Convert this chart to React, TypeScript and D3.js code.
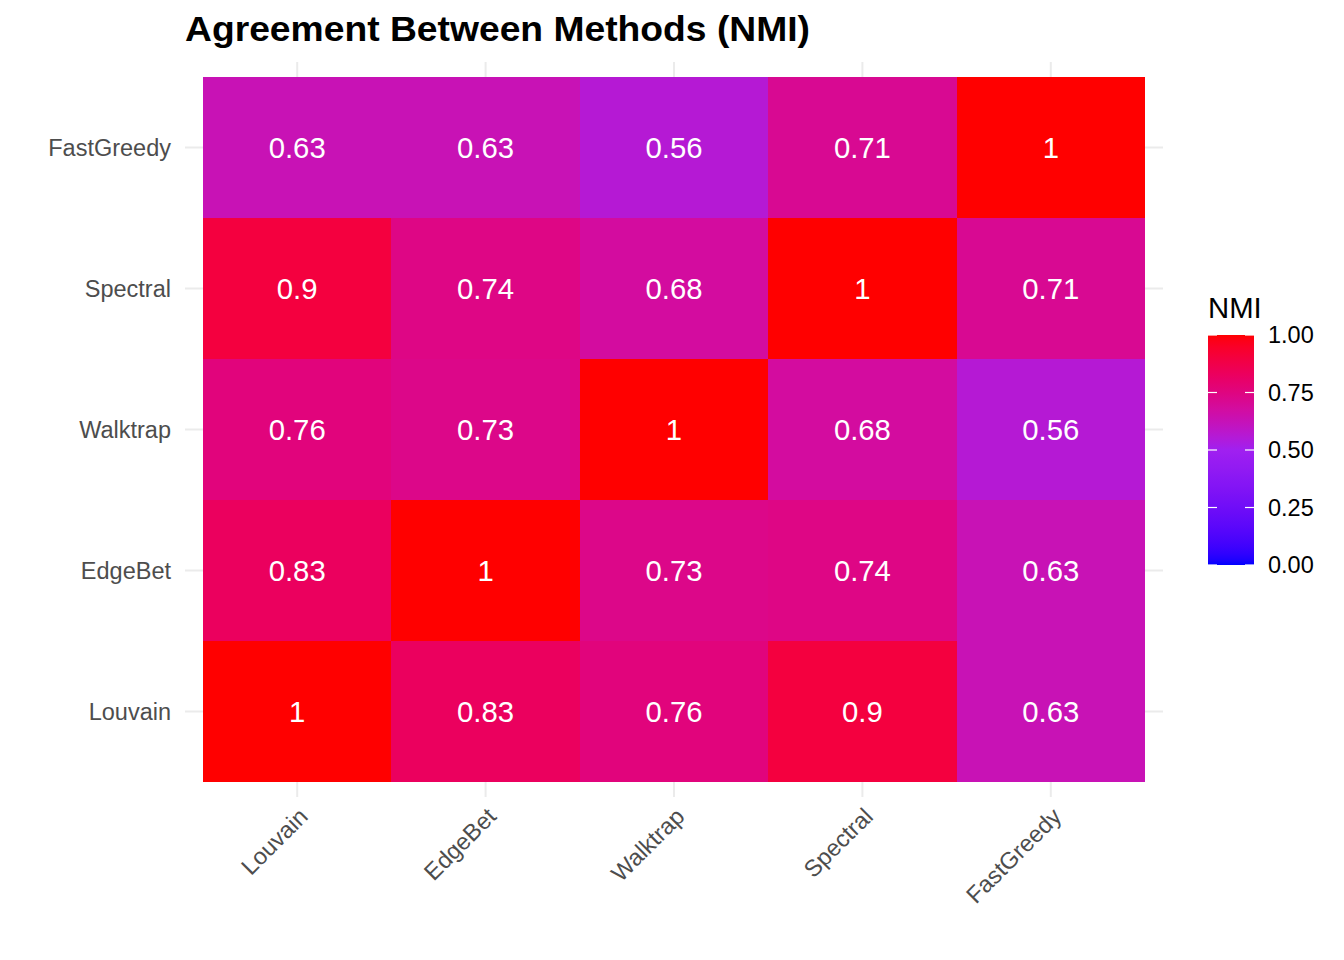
import React from "react";
import * as d3 from "d3";

const methods = ["Louvain", "EdgeBet", "Walktrap", "Spectral", "FastGreedy"];
const louvainRow = [1, 0.83, 0.76, 0.9, 0.63];
const edgeBetRow = [0.83, 1, 0.73, 0.74, 0.63];
const walktrapRow = [0.76, 0.73, 1, 0.68, 0.56];
const spectralRow = [0.9, 0.74, 0.68, 1, 0.71];
const fastGreedyRow = [0.63, 0.63, 0.56, 0.71, 1];
const legendTicks = [0, 0.25, 0.5, 0.75, 1];

const rows = [louvainRow, edgeBetRow, walktrapRow, spectralRow, fastGreedyRow];

const W = 1344;
const H = 960;
const panel = { left: 203, right: 1145, top: 77, bottom: 782 };
const FONT = "'Liberation Sans', Arial, sans-serif";

export default function App() {
  const x = d3.scaleBand<string>().domain(methods).range([panel.left, panel.right]).padding(0);
  const y = d3.scaleBand<string>().domain(methods).range([panel.bottom, panel.top]).padding(0);
  const color = d3
    .scaleLinear<string>()
    .domain([0, 0.5, 1])
    .range(["blue", "#A020F0", "red"])
    .interpolate(d3.interpolateLab);

  const cells: { xi: string; yi: string; v: number }[] = [];
  rows.forEach((row, r) => {
    row.forEach((v, c) => {
      cells.push({ xi: methods[c], yi: methods[r], v });
    });
  });

  const bw = x.bandwidth();
  const bh = y.bandwidth();

  // legend
  const lg = { x: 1208, w: 46, top: 335, bottom: 565 };
  const ly = d3.scaleLinear().domain([0, 1]).range([lg.bottom, lg.top]);
  const stops = d3.range(0, 1.0001, 0.025);

  return (
    <svg width={W} height={H} style={{ position: "absolute", left: 0, top: 0 }} fontFamily={FONT}>
      <rect width={W} height={H} fill="white" />
      <defs>
        <linearGradient id="nmiGrad" x1="0" y1="1" x2="0" y2="0">
          {stops.map((s) => (
            <stop key={s} offset={`${s * 100}%`} stopColor={color(s)} />
          ))}
        </linearGradient>
      </defs>
      {/* grid */}
      {methods.map((m) => (
        <line key={"gx" + m} x1={x(m)! + bw / 2} x2={x(m)! + bw / 2} y1={62} y2={797} stroke="#EBEBEB" strokeWidth={2} />
      ))}
      {methods.map((m) => (
        <line key={"gy" + m} y1={y(m)! + bh / 2} y2={y(m)! + bh / 2} x1={185} x2={1163} stroke="#EBEBEB" strokeWidth={2} />
      ))}
      {/* tiles */}
      {cells.map((d, i) => (
        <rect
          key={"c" + i}
          x={x(d.xi)}
          y={y(d.yi)}
          width={bw}
          height={bh}
          fill={color(d.v)}
          shapeRendering="crispEdges"
        />
      ))}
      {cells.map((d, i) => (
        <text
          key={"t" + i}
          x={x(d.xi)! + bw / 2}
          y={y(d.yi)! + bh / 2}
          textAnchor="middle"
          dominantBaseline="central"
          fill="white"
          fontSize={29.3}
        >
          {String(d.v)}
        </text>
      ))}
      {/* y axis labels */}
      {methods.map((m) => (
        <text
          key={"yl" + m}
          x={171}
          y={y(m)! + bh / 2}
          textAnchor="end"
          dominantBaseline="central"
          fill="#4D4D4D"
          fontSize={23.5}
        >
          {m}
        </text>
      ))}
      {/* x axis labels */}
      {methods.map((m) => (
        <text
          key={"xl" + m}
          transform={`translate(${x(m)! + bw / 2 - 3},${803}) rotate(-45)`}
          textAnchor="end"
          dy="0.9em"
          fill="#4D4D4D"
          fontSize={23.5}
        >
          {m}
        </text>
      ))}
      {/* title */}
      <text x={185} y={41} fontSize={35.2} fontWeight="bold" fill="black" textLength={625} lengthAdjust="spacingAndGlyphs">
        Agreement Between Methods (NMI)
      </text>
      {/* legend */}
      <text x={lg.x} y={318} fontSize={29.3} fill="black">
        NMI
      </text>
      <rect x={lg.x} y={lg.top} width={lg.w} height={lg.bottom - lg.top} fill="url(#nmiGrad)" />
      {legendTicks.map((t) => (
        <g key={"lt" + t}>
          <line x1={lg.x} x2={lg.x + 9} y1={ly(t)} y2={ly(t)} stroke="white" strokeWidth={1.2} />
          <line x1={lg.x + lg.w - 9} x2={lg.x + lg.w} y1={ly(t)} y2={ly(t)} stroke="white" strokeWidth={1.2} />
          <text x={1268} y={ly(t)} dominantBaseline="central" fontSize={23.5} fill="black">
            {t.toFixed(2)}
          </text>
        </g>
      ))}
    </svg>
  );
}
